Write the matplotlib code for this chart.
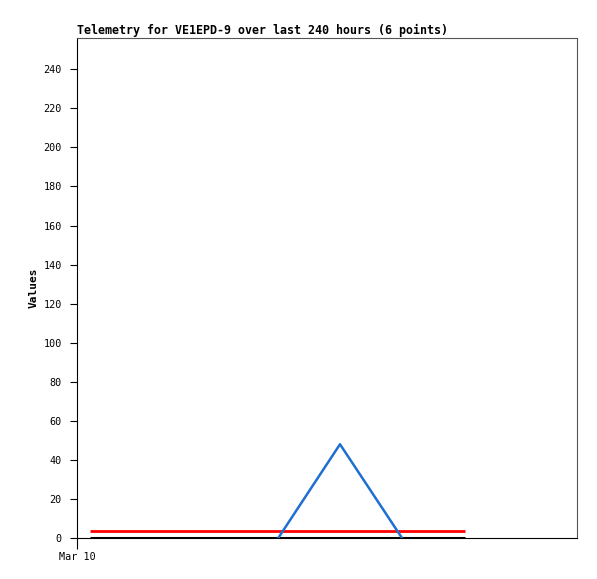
import matplotlib
matplotlib.use("Agg")
from matplotlib import pyplot as plt

# x in hours after Mar 10 00:00
x_flat = [1.04, 31.04]
black_vals = [0, 0]
red_vals = [3.6, 3.6]
x_blue = [16.1, 21.04, 26.0]
blue_vals = [0, 48, 0]

x_ticks = [0]
x_ticklabels = ["Mar 10"]
y_ticks = list(range(0, 241, 20))

plt.rcParams["font.family"] = "DejaVu Sans Mono"

fig = plt.figure(figsize=(5.97, 5.79), dpi=100)
ax = fig.add_axes([77 / 597, 1 - 538 / 579, 500 / 597, 500 / 579])

ax.plot(x_flat, black_vals, color="black", linewidth=2.2, solid_capstyle="butt")
ax.plot(x_flat, red_vals, color="#ff0000", linewidth=2, solid_capstyle="butt")
ax.plot(x_blue, blue_vals, color="#1f6fd0", linewidth=1.8)

ax.set_xlim(0, 40)
ax.set_ylim(0, 256)
ax.set_xticks(x_ticks)
ax.set_xticklabels(x_ticklabels, fontsize=7.3)
ax.set_yticks(y_ticks)
ax.tick_params(axis="y", labelsize=7.3, length=5, pad=6)
ax.tick_params(axis="x", length=8, pad=2)

for side in ["top", "right"]:
    ax.spines[side].set_color("#555555")
ax.spines["left"].set_color("black")
ax.spines["bottom"].set_color("black")

ax.set_ylabel("Values", fontsize=8, fontweight="bold", labelpad=3)
ax.set_title("Telemetry for VE1EPD-9 over last 240 hours (6 points)",
             fontsize=8.35, fontweight="bold", loc="left", pad=3)

fig.savefig("out.png", dpi=100)
